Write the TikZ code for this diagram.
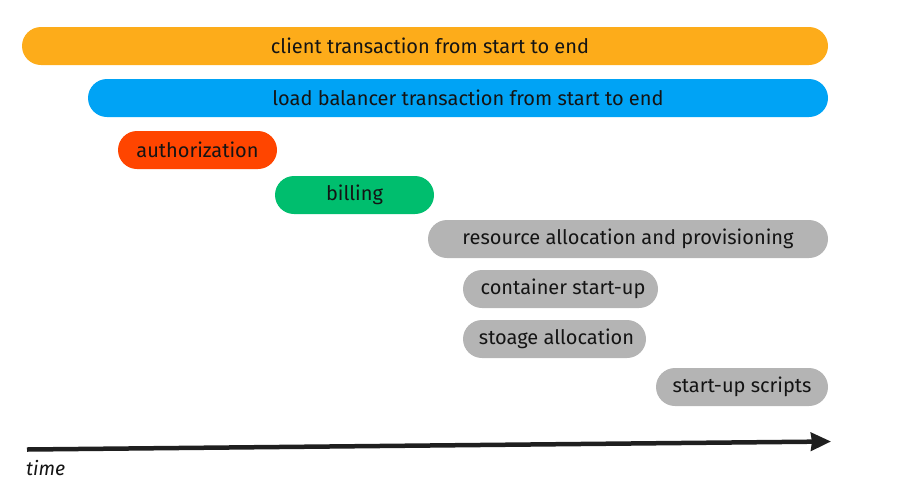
\documentclass[tikz,border=0pt]{standalone}
\usepackage{fontspec}
\setmainfont{Fira Sans}
\usetikzlibrary{arrows.meta}
\definecolor{corange}{RGB}{253,172,26}
\definecolor{cblue}{RGB}{0,163,245}
\definecolor{cred}{RGB}{255,69,0}
\definecolor{cgreen}{RGB}{0,190,110}
\definecolor{cgray}{RGB}{180,180,180}
\definecolor{ctext}{RGB}{20,20,20}
\tikzset{
  bar/.style={rectangle, rounded corners=19pt, minimum height=38pt, inner sep=0pt,
    text=ctext, font=\fontsize{20}{22}\selectfont, anchor=center},
  timeline/.style={line width=4.5pt, draw=black!88, -{Stealth[length=20pt,width=18pt,inset=1pt]}},
}
\begin{document}
\begin{tikzpicture}[x=1pt,y=-1pt]
\useasboundingbox (0,0) rectangle (909,496);
\node[bar, fill=corange, minimum width=806pt] (client) at (425,46) {\hspace{10pt}client transaction from start to end};
\node[bar, fill=cblue, minimum width=740pt] (lb) at (458,98) {\hspace{20pt}load balancer transaction from start to end};
\node[bar, fill=cred, minimum width=159pt] (auth) at (197.5,150) {authorization};
\node[bar, fill=cgreen, minimum width=159pt] (bill) at (354.5,195) {billing};
\node[bar, fill=cgray, minimum width=400pt] (res) at (628,239) {resource allocation and provisioning};
\node[bar, fill=cgray, minimum width=195pt] (cont) at (560.5,289) {\hspace{5pt}container start-up};
\node[bar, fill=cgray, minimum width=183pt] (stor) at (554.5,339) {\hspace{4pt}stoage allocation};
\node[bar, fill=cgray, minimum width=172pt] (scripts) at (742,387) {start-up scripts};
\coordinate (t0) at (27,449.5);
\coordinate (t1) at (831,441.5);
\draw[timeline] (t0) -- (t1);
\node[anchor=west, inner sep=0pt, font=\fontsize{19.5}{22}\selectfont\itshape, text=ctext] (time) at (26,468) {time};
\end{tikzpicture}
\end{document}
